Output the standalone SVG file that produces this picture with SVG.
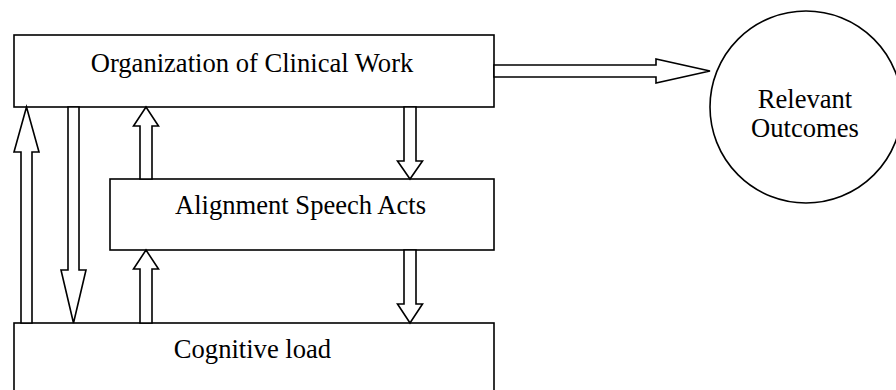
<svg xmlns="http://www.w3.org/2000/svg" width="896" height="390" viewBox="0 0 896 390">
<style>
.box{fill:#fff;stroke:#000;stroke-width:1.6}
.arr{fill:#fff;stroke:#000;stroke-width:1.6;stroke-linejoin:miter}
.lbl{font-family:"Liberation Serif","Times New Roman",serif;font-size:26.6px;fill:#000;text-anchor:middle}
</style>
<rect width="896" height="390" fill="#fff"/>
<g id="org">
<rect class="box" x="14" y="35" width="480" height="72"/>
<text class="lbl" x="252" y="72">Organization of Clinical Work</text>
</g>
<g id="align">
<rect class="box" x="110" y="179" width="384" height="71"/>
<text class="lbl" x="300.5" y="214">Alignment Speech Acts</text>
</g>
<g id="cog">
<rect class="box" x="14" y="323" width="480" height="80"/>
<text class="lbl" x="252.5" y="358">Cognitive load</text>
</g>
<g id="outcomes">
<circle class="box" cx="806" cy="107" r="96"/>
<text class="lbl" x="805" y="108">Relevant</text>
<text class="lbl" x="805" y="137">Outcomes</text>
</g>
<g id="connectors">
<polygon class="arr" points="21,323 21,152 14,152 26.5,107 39,152 32,152 32,323"/>
<polygon class="arr" points="68,107 68,270 61,270 73.5,323 86,270 79,270 79,107"/>
<polygon class="arr" points="140,179 140,126 133.5,126 146,107 158.5,126 152,126 152,179"/>
<polygon class="arr" points="140,323 140,269 133.5,269 146,250 158.5,269 152,269 152,323"/>
<polygon class="arr" points="404,107 404,161 397.5,161 410,179 422.5,161 416,161 416,107"/>
<polygon class="arr" points="404,250 404,304 397.5,304 410,323 422.5,304 416,304 416,250"/>
<polygon class="arr" points="494,65 656,65 656,59 710,71 656,83 656,77 494,77"/>
</g>
</svg>
